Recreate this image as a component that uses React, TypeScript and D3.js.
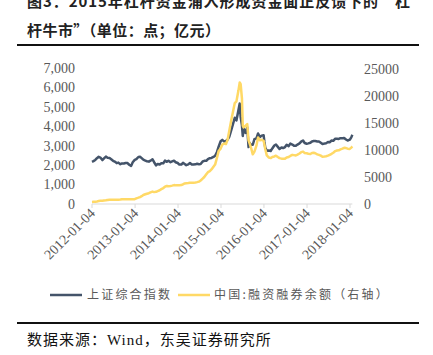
import React from "react";
import * as d3 from "d3";

const dates: string[] = [
  "2012-01-04","2012-01-16","2012-02-01","2012-02-15","2012-03-01","2012-03-15","2012-04-01","2012-04-15","2012-05-01","2012-05-15","2012-06-01","2012-06-15","2012-07-01","2012-07-15","2012-08-01","2012-08-15","2012-09-01","2012-09-15","2012-10-01","2012-10-15","2012-11-01","2012-11-15","2012-12-01","2012-12-15",
  "2013-01-01","2013-01-15","2013-02-01","2013-02-15","2013-03-01","2013-03-15","2013-04-01","2013-04-15","2013-05-01","2013-05-15","2013-06-01","2013-06-15","2013-07-01","2013-07-15","2013-08-01","2013-08-15","2013-09-01","2013-09-15","2013-10-01","2013-10-15","2013-11-01","2013-11-15","2013-12-01","2013-12-15",
  "2014-01-01","2014-01-15","2014-02-01","2014-02-15","2014-03-01","2014-03-15","2014-04-01","2014-04-15","2014-05-01","2014-05-15","2014-06-01","2014-06-15","2014-07-01","2014-07-15","2014-08-01","2014-08-15","2014-09-01","2014-09-15","2014-10-01","2014-10-15","2014-11-01","2014-11-15","2014-12-01","2014-12-15",
  "2015-01-01","2015-01-15","2015-02-01","2015-02-15","2015-03-01","2015-03-15","2015-04-01","2015-04-15","2015-05-01","2015-05-15","2015-06-01","2015-06-12","2015-06-20","2015-07-01","2015-07-08","2015-07-15","2015-08-01","2015-08-15","2015-08-26","2015-09-01","2015-09-15","2015-10-01","2015-10-15","2015-11-01","2015-11-15","2015-12-01","2015-12-15",
  "2016-01-01","2016-01-08","2016-01-15","2016-01-28","2016-02-15","2016-03-01","2016-03-15","2016-04-01","2016-04-15","2016-05-01","2016-05-15","2016-06-01","2016-06-15","2016-07-01","2016-07-15","2016-08-01","2016-08-15","2016-09-01","2016-09-15","2016-10-01","2016-10-15","2016-11-01","2016-11-15","2016-12-01","2016-12-15",
  "2017-01-01","2017-01-15","2017-02-01","2017-02-15","2017-03-01","2017-03-15","2017-04-01","2017-04-15","2017-05-01","2017-05-15","2017-06-01","2017-06-15","2017-07-01","2017-07-15","2017-08-01","2017-08-15","2017-09-01","2017-09-15","2017-10-01","2017-10-15","2017-11-01","2017-11-15","2017-12-01","2017-12-15",
  "2018-01-02","2018-01-15","2018-01-24",
];

const sseIndex: number[] = [
  2169,2206,2268,2357,2430,2391,2262,2350,2440,2380,2370,2306,2225,2185,2103,2130,2050,2090,2086,2108,2105,2020,1960,2150,
  2270,2310,2420,2430,2360,2280,2230,2200,2180,2230,2300,2150,1990,2060,2030,2100,2100,2230,2170,2230,2150,2190,2230,2150,
  2110,2030,2030,2120,2060,2000,2040,2110,2030,2030,2040,2070,2050,2060,2190,2220,2220,2310,2360,2370,2420,2480,2680,2950,
  3230,3300,3210,3240,3310,3450,3800,4100,4440,4300,4830,5170,4480,4050,3500,3900,3660,3950,2930,3170,3050,3050,3340,3380,3630,3450,3520,
  3540,3190,2900,2740,2750,2730,2860,3010,3060,2940,2830,2910,2880,2930,3050,2980,3110,3060,3000,3000,3060,3120,3210,3270,3140,
  3100,3120,3150,3220,3240,3240,3220,3220,3150,3090,3110,3130,3190,3180,3270,3250,3360,3360,3350,3390,3390,3400,3320,3270,
  3310,3430,3560,
];

const marginBalance: number[] = [
  380,400,420,470,540,600,610,660,700,750,800,800,810,790,780,780,820,880,870,890,860,890,880,900,
  900,1050,1170,1280,1450,1660,1800,1900,2000,2150,2300,2200,2250,2400,2550,2750,2950,3200,3350,3300,3350,3400,3500,3450,
  3460,3480,3500,3650,3800,3850,3900,3950,3920,3950,3980,4050,4150,4350,4700,5000,5500,5900,6100,6400,6900,7300,8600,9800,
  10250,11000,11200,11100,11900,13500,15500,17000,18700,19000,21000,22500,22200,19500,14500,14200,14500,14800,11800,11400,10500,9200,9700,10800,12300,11800,11900,
  11700,11000,10200,9000,8600,8500,8700,8800,8950,8700,8500,8400,8400,8400,8600,8700,8900,9100,9050,9000,9150,9350,9600,9700,9450,
  9390,9300,9250,9450,9500,9400,9200,9100,8950,8750,8800,8850,8950,9100,9300,9500,9800,9900,9950,10100,10250,10400,10350,10250,
  10200,10450,10650,
];

const xTickLabels: string[] = ["2012-01-04","2013-01-04","2014-01-04","2015-01-04","2016-01-04","2017-01-04","2018-01-04"];
const leftTicks: number[] = [0,1000,2000,3000,4000,5000,6000,7000];
const rightTicks: number[] = [0,5000,10000,15000,20000,25000];

const seriesNames: string[] = ["上证综合指数", "中国:融资融券余额（右轴）"];
const titleLine1 = "图3：2015年杠杆资金涌入形成资金面正反馈下的“杠";
const titleLine2 = "杆牛市”（单位：点；亿元）";

const NAVY = "#44546A";
const GOLD = "#FFD966";
const GRAY = "#595959";

export default function App() {
  const parse = d3.timeParse("%Y-%m-%d");
  const ds = dates.map((d) => parse(d) as Date);
  const x = d3.scaleTime().domain([parse("2012-01-04") as Date, parse("2018-01-04") as Date]).range([92, 350]);
  const yL = d3.scaleLinear().domain([0, 7000]).range([204, 68]);
  const yR = d3.scaleLinear().domain([0, 25000]).range([204, 69]);

  const lineL = d3.line<number>().x((_, i) => x(ds[i])).y((v) => yL(v));
  const lineR = d3.line<number>().x((_, i) => x(ds[i])).y((v) => yR(v));
  const xEnd = x(ds[ds.length - 1]);
  const serif = "'Liberation Serif', 'DejaVu Serif', serif";
  const cjk = "'Noto Sans CJK SC', sans-serif";

  return (
    <svg width={433} height={355} style={{ position: "absolute", left: 0, top: 0, display: "block", background: "#fff" }}>
      <text x={27} y={7} fontFamily={cjk} fontSize={15} fontWeight="bold" fill="#222" textLength={383} lengthAdjust="spacing">{titleLine1}</text>
      <text x={27} y={36} fontFamily={cjk} fontSize={15} fontWeight="bold" fill="#222" textLength={193} lengthAdjust="spacing">{titleLine2}</text>
      <line x1={17} x2={419} y1={45} y2={45} stroke="#111" strokeWidth={2} />

      {/* x axis */}
      <line x1={x(parse("2012-01-04") as Date)} x2={xEnd} y1={yL(0)} y2={yL(0)} stroke="#D9D9D9" strokeWidth={1} />
      {xTickLabels.map((t) => {
        const xx = x(parse(t) as Date);
        return (
          <g key={t}>
            <line x1={xx} x2={xx} y1={yL(0)} y2={yL(0) + 4} stroke="#D9D9D9" />
            <text transform={`translate(${xx + 4},${yL(0) + 10}) rotate(-45)`} textAnchor="end" fontFamily={serif} fontSize={14} fill={GRAY}>{t}</text>
          </g>
        );
      })}

      {leftTicks.map((t) => (
        <text key={"l" + t} x={75} y={yL(t)} dy="0.35em" textAnchor="end" fontFamily={serif} fontSize={14} fill={GRAY}>{d3.format(",")(t)}</text>
      ))}
      {rightTicks.map((t) => (
        <text key={"r" + t} x={364} y={yR(t)} dy="0.35em" textAnchor="start" fontFamily={serif} fontSize={14} fill={GRAY}>{t}</text>
      ))}

      <path d={lineL(sseIndex) || ""} fill="none" stroke={NAVY} strokeWidth={2.5} strokeLinejoin="round" />
      <path d={lineR(marginBalance) || ""} fill="none" stroke={GOLD} strokeWidth={2.5} strokeLinejoin="round" />

      {/* legend */}
      <line x1={50} x2={82} y1={295} y2={295} stroke={NAVY} strokeWidth={2.5} />
      <text x={87} y={295} dy="0.35em" fontFamily={cjk} fontSize={12} fill={GRAY} letterSpacing={2.2}>{seriesNames[0]}</text>
      <line x1={178} x2={210} y1={295} y2={295} stroke={GOLD} strokeWidth={2.5} />
      <text x={214} y={295} dy="0.35em" fontFamily={cjk} fontSize={12} fill={GRAY} letterSpacing={2.2}>{seriesNames[1]}</text>

      <line x1={17} x2={419} y1={323} y2={323} stroke="#111" strokeWidth={2} />
      <text x={27} y={345} fontFamily={cjk} fontSize={15} fill="#111" letterSpacing={1}>
        <tspan>数据来源：</tspan>
        <tspan fontFamily={serif}>Wind</tspan>
        <tspan>，东吴证券研究所</tspan>
      </text>
    </svg>
  );
}
